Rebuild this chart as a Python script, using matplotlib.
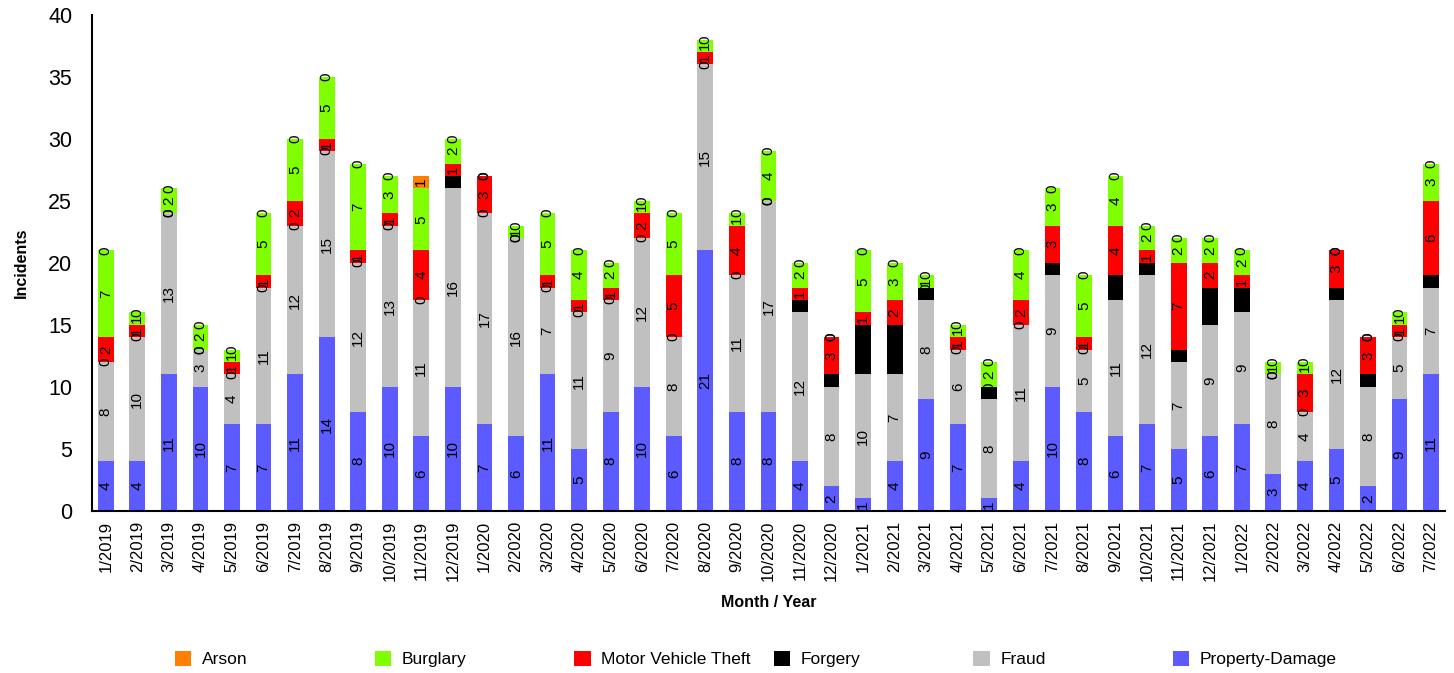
import matplotlib.pyplot as plt
import numpy as np

plt.rcParams['font.family'] = ['Liberation Sans', 'DejaVu Sans']

months = ['1/2019', '2/2019', '3/2019', '4/2019', '5/2019', '6/2019', '7/2019', '8/2019', '9/2019',
          '10/2019', '11/2019', '12/2019', '1/2020', '2/2020', '3/2020', '4/2020', '5/2020', '6/2020',
          '7/2020', '8/2020', '9/2020', '10/2020', '11/2020', '12/2020', '1/2021', '2/2021', '3/2021',
          '4/2021', '5/2021', '6/2021', '7/2021', '8/2021', '9/2021', '10/2021', '11/2021', '12/2021',
          '1/2022', '2/2022', '3/2022', '4/2022', '5/2022', '6/2022', '7/2022']

property_damage = [4, 4, 11, 10, 7, 7, 11, 14, 8, 10, 6, 10, 7, 6, 11, 5, 8, 10, 6, 21, 8, 8, 4, 2, 1, 4, 9,
                   7, 1, 4, 10, 8, 6, 7, 5, 6, 7, 3, 4, 5, 2, 9, 11]
fraud = [8, 10, 13, 3, 4, 11, 12, 15, 12, 13, 11, 16, 17, 16, 7, 11, 9, 12, 8, 15, 11, 17, 12, 8, 10, 7, 8,
         6, 8, 11, 9, 5, 11, 12, 7, 9, 9, 8, 4, 12, 8, 5, 7]
forgery = [0, 0, 0, 0, 0, 0, 0, 0, 0, 0, 0, 1, 0, 0, 0, 0, 0, 0, 0, 0, 0, 0, 1, 1, 4, 4, 1,
           0, 1, 0, 1, 0, 2, 1, 1, 3, 2, 0, 0, 1, 1, 0, 1]
motor_vehicle_theft = [2, 1, 0, 0, 1, 1, 2, 1, 1, 1, 4, 1, 3, 0, 1, 1, 1, 2, 5, 1, 4, 0, 1, 3, 1, 2, 0,
                       1, 0, 2, 3, 1, 4, 1, 7, 2, 1, 0, 3, 3, 3, 1, 6]
burglary = [7, 1, 2, 2, 1, 5, 5, 5, 7, 3, 5, 2, 0, 1, 5, 4, 2, 1, 5, 1, 1, 4, 2, 0, 5, 3, 1,
            1, 2, 4, 3, 5, 4, 2, 2, 2, 2, 1, 1, 0, 0, 1, 3]
arson = [0, 0, 0, 0, 0, 0, 0, 0, 0, 0, 1, 0, 0, 0, 0, 0, 0, 0, 0, 0, 0, 0, 0, 0, 0, 0, 0,
         0, 0, 0, 0, 0, 0, 0, 0, 0, 0, 0, 0, 0, 0, 0, 0]

# stacking order bottom -> top
series = [('Property-Damage', property_damage, '#5b5bff'),
          ('Fraud', fraud, '#c0c0c0'),
          ('Forgery', forgery, '#000000'),
          ('Motor Vehicle Theft', motor_vehicle_theft, '#ff0000'),
          ('Burglary', burglary, '#80ff00'),
          ('Arson', arson, '#ff8000')]

fig = plt.figure(figsize=(14.54, 6.73), dpi=100)
ax = fig.add_axes([0.063, 0.241, 0.931, 0.737])

x = np.arange(len(months))
bottom = np.zeros(len(months))
handles = {}
for name, vals, color in series:
    vals = np.array(vals)
    bars = ax.bar(x, vals, 0.5, bottom=bottom, color=color, label=name)
    ax.bar_label(bars, label_type='center', rotation=90, fontsize=11, color='black')
    handles[name] = bars
    bottom += vals

ax.set_xlim(-0.45, len(months) - 0.55)
ax.set_ylim(0, 40)
ax.set_yticks(range(0, 41, 5))
ax.set_xticks(x)
ax.set_xticklabels(months, rotation=90, fontsize=12)
ax.tick_params(axis='y', labelsize=15.5, length=0, pad=14)
ax.tick_params(axis='x', length=0, pad=7)
for s in ['top', 'right']:
    ax.spines[s].set_visible(False)
for s in ['left', 'bottom']:
    ax.spines[s].set_linewidth(1.5)

ax.set_xlabel('Month / Year', fontsize=11.5, fontweight='bold', labelpad=10)
ax.set_ylabel('Incidents', fontsize=11.5, fontweight='bold', labelpad=14)

# legend: evenly spaced entries along the bottom
legend_order = ['Arson', 'Burglary', 'Motor Vehicle Theft', 'Forgery', 'Fraud', 'Property-Damage']
for i, name in enumerate(legend_order):
    fig.legend([handles[name]], [name], loc='center left',
               bbox_to_anchor=((175 + i * 199.6) / 1454, 1 - 659 / 673),
               frameon=False, fontsize=12.5, handlelength=0.95, handleheight=0.95,
               handletextpad=0.6, borderpad=0, borderaxespad=0)

fig.savefig('out.png', dpi=100)
